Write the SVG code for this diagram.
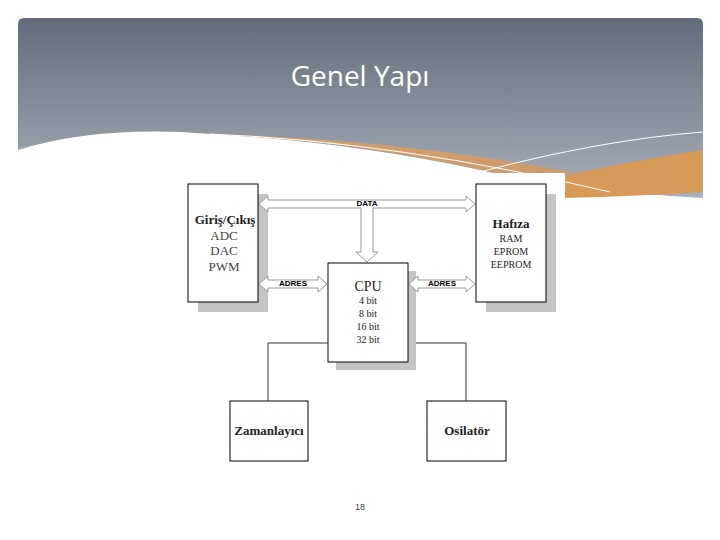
<svg xmlns="http://www.w3.org/2000/svg" width="720" height="540" viewBox="0 0 720 540">
<defs>
<linearGradient id="hg" x1="0" y1="0" x2="0" y2="1"><stop offset="0" stop-color="#646b7a"/><stop offset="1" stop-color="#aab1bc"/></linearGradient>
<linearGradient id="og" x1="0" y1="0" x2="1" y2="0"><stop offset="0" stop-color="#d6a06a"/><stop offset="1" stop-color="#c99a6e"/></linearGradient>
<style>
.box{fill:#fff;stroke:#000;stroke-width:1}
.sh{fill:#c4c4c4}
.arr{fill:#fff;stroke:#999;stroke-width:1}
.t{font-family:"Liberation Serif",serif;fill:#222;text-anchor:middle}
.b{font-weight:bold;font-size:13px}
.s{font-size:13px;fill:#444}
.lab{font-family:"Liberation Sans",sans-serif;font-weight:bold;font-size:8px;text-anchor:middle}
.ln{fill:none;stroke:#333;stroke-width:1}
</style>
</defs>
<rect width="720" height="540" fill="#fff"/>
<path d="M18,24 Q18,18 24,18 L697,18 Q703,18 703,24 L703,200 L18,200 Z" fill="url(#hg)"/>
<path d="M210,134 Q400,140 560,170 Q640,185 703,190 L703,150 Q640,160 560,176 L500,174 Q350,140 210,134 Z" fill="url(#og)"/>
<path d="M18,150 Q100,125 210,134 Q350,142 480,170 Q560,190 703,198 L703,540 L18,540 Z" fill="#fff"/>
<path d="M565,176 Q640,160 703,150 L703,192 Q640,196 565,198 Z" fill="#d89a58"/>
<path d="M210,134 Q400,142 610,192" fill="none" stroke="#fff" stroke-width="1"/>
<path d="M480,172 Q600,140 703,132" fill="none" stroke="#fff" stroke-width="1"/>
<rect x="180" y="173" width="385" height="300" fill="#fff"/>
<text x="360" y="86" font-family="Open Sans,sans-serif" font-size="28" fill="#fff" text-anchor="middle">Genel Yapı</text>

<g id="giris">
<rect class="sh" x="198" y="194" width="70" height="118"/>
<rect class="box" x="188" y="184" width="70" height="118"/>
<text class="t b" x="225" y="224">Giriş/Çıkış</text>
<text class="t s" x="224" y="240">ADC</text>
<text class="t s" x="224" y="255">DAC</text>
<text class="t s" x="224" y="271">PWM</text>
</g>
<g id="hafiza">
<rect class="sh" x="486" y="194" width="70" height="118"/>
<rect class="box" x="476" y="184" width="70" height="118"/>
<text class="t b" x="511" y="228">Hafıza</text>
<text class="t" font-size="10" x="511" y="242">RAM</text>
<text class="t" font-size="10" x="511" y="255">EPROM</text>
<text class="t" font-size="10" x="511" y="268">EEPROM</text>
</g>
<g id="cpu">
<rect class="sh" x="336" y="271" width="80" height="99"/>
<rect class="box" x="328" y="263" width="80" height="99"/>
<text class="t" font-size="14" x="368" y="291">CPU</text>
<text class="t" font-size="10" x="368" y="304">4 bit</text>
<text class="t" font-size="10" x="368" y="317">8 bit</text>
<text class="t" font-size="10" x="368" y="330">16 bit</text>
<text class="t" font-size="10" x="368" y="343">32 bit</text>
</g>
<g id="zaman">
<rect class="box" x="230" y="401" width="78" height="60"/>
<text class="t b" x="269" y="435">Zamanlayıcı</text>
</g>
<g id="osilator">
<rect class="box" x="427" y="401" width="79" height="60"/>
<text class="t b" x="467" y="435">Osilatör</text>
</g>

<g id="connectors">
<path class="arr" d="M259,204 L268,196 L268,200 L466,200 L466,196 L475,204 L466,212 L466,208 L373,208 L373,252 L378,252 L367,262 L356,252 L361,252 L361,208 L268,208 L268,212 Z"/>
<text class="lab" x="367" y="206">DATA</text>
<path class="arr" d="M259,284 L268,276 L268,280 L318,280 L318,276 L327,284 L318,292 L318,288 L268,288 L268,292 Z"/>
<text class="lab" x="293" y="286">ADRES</text>
<path class="arr" d="M409,284 L418,276 L418,280 L466,280 L466,276 L475,284 L466,292 L466,288 L418,288 L418,292 Z"/>
<text class="lab" x="442" y="286">ADRES</text>
<path class="ln" d="M328,343 L268,343 L268,401"/>
<path class="ln" d="M416,343 L466,343 L466,401"/>
</g>
<text x="360" y="510" font-family="Liberation Sans,sans-serif" font-size="9" fill="#444" text-anchor="middle">18</text>
</svg>
